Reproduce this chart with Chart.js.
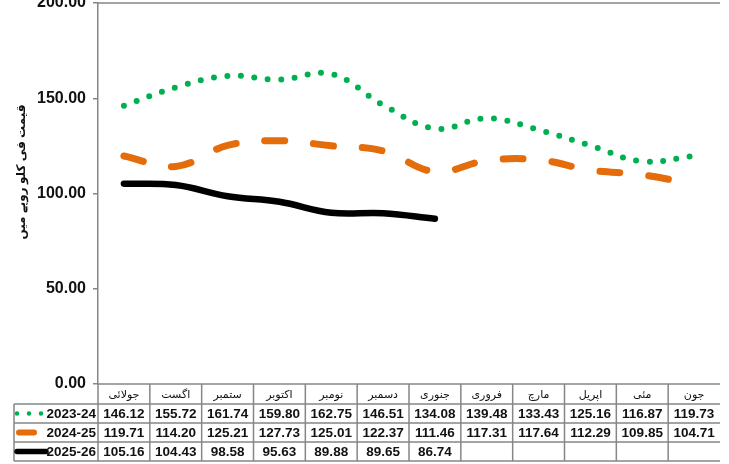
<!doctype html>
<html lang="ur">
  <head>
    <meta charset="UTF-8" />
    <meta name="viewport" content="width=device-width, initial-scale=1.0" />
    <title>قیمت فی کلو روپے میں</title>
    <script src="https://cdn.jsdelivr.net/npm/chart.js"></script>
    <style>
      body {
        margin: 0;
        background-color: #fff;
      }

      .chart-container {
        width: 729px;
        height: 464px;
        position: relative;
      }
    </style>
  </head>
  <body>
    <div class="chart-container">
      <canvas id="priceChart"></canvas>
    </div>

    <script>
      // Data
      const months = ['جولائی', 'اگست', 'ستمبر', 'اکتوبر', 'نومبر', 'دسمبر', 'جنوری', 'فروری', 'مارچ', 'اپریل', 'مئی', 'جون'];
      const seriesNames = ['2023-24', '2024-25', '2025-26'];
      const prices2023 = [146.12, 155.72, 161.74, 159.8, 162.75, 146.51, 134.08, 139.48, 133.43, 125.16, 116.87, 119.73];
      const prices2024 = [119.71, 114.2, 125.21, 127.73, 125.01, 122.37, 111.46, 117.31, 117.64, 112.29, 109.85, 104.71];
      const prices2025 = [105.16, 104.43, 98.58, 95.63, 89.88, 89.65, 86.74, null, null, null, null, null];
      const yMin = 0;
      const yMax = 200;
      const yStep = 50;
      const yTitle = 'قیمت فی کلو روپے میں';

      const gridColor = '#868686';
      const textColor = '#111';
      const seriesStyles = [
        { color: '#00b050', width: 6, dash: [0, 13.5] },
        { color: '#e46c0a', width: 7, dash: [20, 29] },
        { color: '#000000', width: 6.5, dash: [] },
      ];

      // Draws the plot frame, y title and the data table under the chart
      const tablePlugin = {
        id: 'dataTable',
        afterDraw(chart) {
          const { ctx, chartArea } = chart;
          const xScale = chart.scales.x;
          const left = chartArea.left;
          const right = chartArea.right;
          const colW = (right - left) / months.length;
          const top = chartArea.bottom;
          const headerH = 20;
          const rowH = 19;
          const tableLeft = 14;
          const bottom = top + headerH + rowH * 3;
          const allRows = [prices2023, prices2024, prices2025];

          ctx.save();

          // top frame line and bottom axis line
          ctx.strokeStyle = gridColor;
          ctx.lineWidth = 1.5;
          ctx.beginPath();
          ctx.moveTo(left, chartArea.top);
          ctx.lineTo(right, chartArea.top);
          ctx.moveTo(left, top);
          ctx.lineTo(right, top);
          ctx.stroke();

          // table grid
          ctx.beginPath();
          for (let r = 1; r <= 3; r++) {
            const y = top + headerH + rowH * r;
            ctx.moveTo(tableLeft, y);
            ctx.lineTo(right, y);
          }
          ctx.moveTo(tableLeft, top + headerH);
          ctx.lineTo(right, top + headerH);
          ctx.moveTo(tableLeft, top + headerH);
          ctx.lineTo(tableLeft, bottom);
          for (let i = 0; i < months.length; i++) {
            const x = left + i * colW;
            ctx.moveTo(x, top);
            ctx.lineTo(x, bottom);
          }
          ctx.stroke();

          // month names
          ctx.fillStyle = textColor;
          ctx.textAlign = 'center';
          ctx.textBaseline = 'middle';
          ctx.font = '11px Arial, "DejaVu Sans", sans-serif';
          months.forEach((m, i) => {
            ctx.fillText(m, xScale.getPixelForValue(i), top + headerH / 2 + 1);
          });

          // values
          ctx.font = 'bold 13.5px Arial, "Liberation Sans", sans-serif';
          allRows.forEach((row, r) => {
            const y = top + headerH + rowH * r + rowH / 2 + 1;
            row.forEach((v, i) => {
              if (v === null) return;
              ctx.fillText(v.toFixed(2), xScale.getPixelForValue(i), y);
            });
          });

          // series names with legend keys
          ctx.textAlign = 'right';
          seriesNames.forEach((name, r) => {
            const y = top + headerH + rowH * r + rowH / 2;
            ctx.fillText(name, left - 2, y + 1);
            const s = seriesStyles[r];
            ctx.strokeStyle = s.color;
            ctx.lineCap = 'round';
            if (r === 0) {
              ctx.lineWidth = 4.5;
              ctx.setLineDash([0, 12]);
              ctx.beginPath();
              ctx.moveTo(17, y);
              ctx.lineTo(42, y);
            } else if (r === 1) {
              ctx.lineWidth = 6;
              ctx.setLineDash([]);
              ctx.beginPath();
              ctx.moveTo(19, y);
              ctx.lineTo(34, y);
            } else {
              ctx.lineWidth = 5.5;
              ctx.setLineDash([]);
              ctx.beginPath();
              ctx.moveTo(17, y);
              ctx.lineTo(46, y);
            }
            ctx.stroke();
          });
          ctx.setLineDash([]);

          // y axis title
          ctx.translate(22, 172);
          ctx.rotate(-Math.PI / 2);
          ctx.textAlign = 'center';
          ctx.fillStyle = textColor;
          ctx.font = 'bold 12px Arial, "DejaVu Sans", sans-serif';
          ctx.fillText(yTitle, 0, 0);

          ctx.restore();
        },
      };

      const datasets = [prices2023, prices2024, prices2025].map((data, i) => ({
        label: seriesNames[i],
        data: data,
        borderColor: seriesStyles[i].color,
        backgroundColor: seriesStyles[i].color,
        borderWidth: seriesStyles[i].width,
        borderDash: seriesStyles[i].dash,
        borderCapStyle: 'round',
        borderJoinStyle: 'round',
        pointRadius: 0,
        tension: 0.4,
        fill: false,
        spanGaps: false,
      }));

      new Chart(document.getElementById('priceChart').getContext('2d'), {
        type: 'line',
        data: { labels: months, datasets: datasets },
        options: {
          responsive: true,
          maintainAspectRatio: false,
          animation: false,
          devicePixelRatio: 1,
          layout: { padding: { left: 0, right: 9, top: 3, bottom: 80 } },
          plugins: {
            legend: { display: false },
            tooltip: { enabled: false },
          },
          scales: {
            x: {
              display: false,
              offset: true,
            },
            y: {
              min: yMin,
              max: yMax,
              border: { display: true, color: gridColor, width: 1.5 },
              grid: { drawOnChartArea: false, drawTicks: true, tickLength: 5, color: gridColor, lineWidth: 1.5 },
              ticks: {
                stepSize: yStep,
                padding: 7,
                color: textColor,
                font: { family: 'Arial, "Liberation Sans", sans-serif', size: 16, weight: 'bold' },
                callback: (v) => v.toFixed(2),
              },
              afterFit(scale) {
                scale.width = 98;
                scale.paddingTop = 0;
                scale.paddingBottom = 0;
              },
            },
          },
        },
        plugins: [tablePlugin],
      });
    </script>
  </body>
</html>
